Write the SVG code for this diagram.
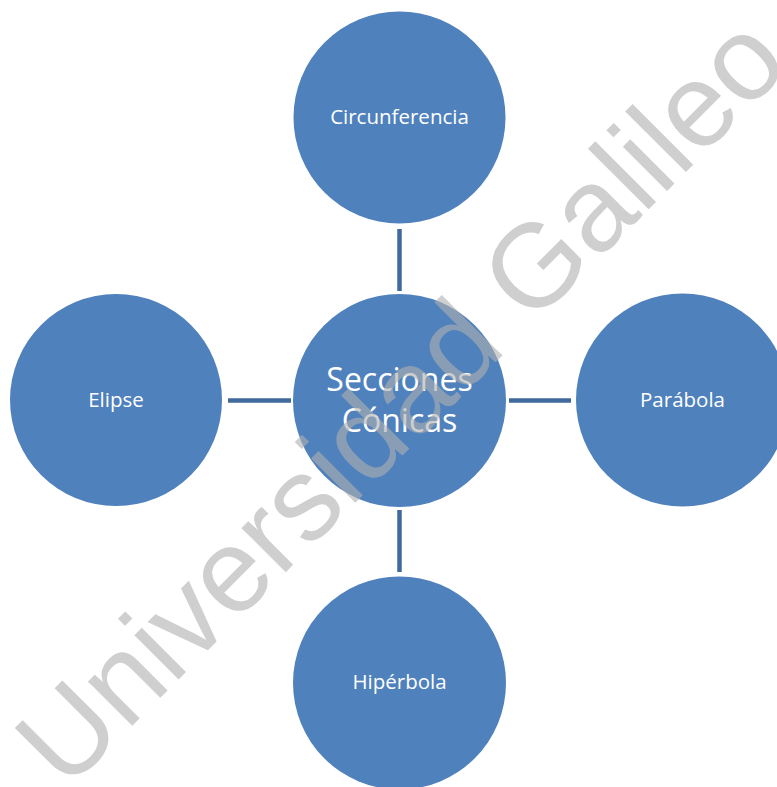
<svg xmlns="http://www.w3.org/2000/svg" width="777" height="787" viewBox="0 0 777 787">
<style>
.node circle{fill:#4f81bd;}
.node text{font-family:"Open Sans","Noto Sans",sans-serif;fill:#ffffff;text-anchor:middle;font-size:20.5px;}
.node text.big{font-size:32px;}
.conn line{stroke:#416a9c;stroke-width:4.5;}
.wm{font-family:"Liberation Sans",Arial,sans-serif;font-size:118.4px;fill:#b0b0b0;opacity:0.6;}
</style>
<rect width="777" height="787" fill="#ffffff"/>
<g id="connectors" class="conn">
<line x1="399.5" y1="229" x2="399.5" y2="291"/>
<line x1="399.5" y1="510" x2="399.5" y2="572"/>
<line x1="228" y1="400.5" x2="291" y2="400.5"/>
<line x1="509" y1="400.5" x2="571" y2="400.5"/>
</g>
<g id="node-center" class="node">
<circle cx="399.5" cy="400.5" r="106.5"/>
<text class="big" x="399.5" y="391">Secciones</text>
<text class="big" x="399.5" y="432">Cónicas</text>
</g>
<g id="node-circunferencia" class="node">
<circle cx="399.5" cy="117.5" r="106"/>
<text x="399.5" y="124">Circunferencia</text>
</g>
<g id="node-elipse" class="node">
<circle cx="116" cy="400" r="106"/>
<text x="116" y="407">Elipse</text>
</g>
<g id="node-parabola" class="node">
<circle cx="682.5" cy="400" r="106.5"/>
<text x="682.5" y="407">Parábola</text>
</g>
<g id="node-hiperbola" class="node">
<circle cx="399.5" cy="683" r="106.5"/>
<text x="399.5" y="689">Hipérbola</text>
</g>
<text class="wm" transform="translate(66 792) rotate(-45)">Universidad Galileo</text>
</svg>
